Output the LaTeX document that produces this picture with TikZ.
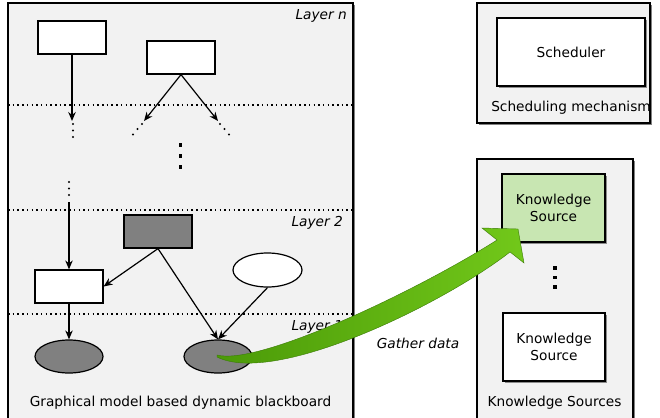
\documentclass[tikz,border=0pt]{standalone}
\usepackage{fontspec}
\setmainfont{DejaVu Sans}
\usetikzlibrary{arrows.meta,shadows,shapes.geometric}
\definecolor{panelgray}{HTML}{F2F2F2}
\definecolor{nodegray}{HTML}{808080}
\definecolor{ksgreen}{HTML}{C8E6B2}
\definecolor{arrowdark}{HTML}{4B9A08}
\definecolor{arrowlight}{HTML}{72C81A}
\definecolor{arrowedge}{HTML}{3A7A06}
\begin{document}
\begin{tikzpicture}[x=1pt,y=-1pt,
  txt/.style={font=\fontsize{13.7}{16}\selectfont, inner sep=0pt},
  layerlbl/.style={txt, font=\fontsize{13.7}{16}\selectfont\itshape, anchor=east},
  panelbox/.style={draw=black, line width=1.3pt, fill=panelgray,
    drop shadow={shadow xshift=2pt, shadow yshift=-2pt, fill=black!50, opacity=1}},
  innerbox/.style={draw=black, line width=1.3pt,
    drop shadow={shadow xshift=1.8pt, shadow yshift=-1.8pt, fill=black!45, opacity=1}},
  gbox/.style={draw=black, line width=1.2pt, rectangle, minimum width=68pt, minimum height=33pt, inner sep=0pt},
  gell/.style={draw=black, line width=1.2pt, ellipse, minimum width=68pt, minimum height=33pt, inner sep=0pt},
  arr/.style={-{Stealth[length=9pt,width=7.5pt,inset=3pt]}, line width=1.2pt},
  layersep/.style={line width=1.5pt, dash pattern=on 1.5pt off 3.2pt},
  dot/.style={fill=black, inner sep=0pt, minimum size=2.2pt, circle},
  bigdot/.style={fill=black, inner sep=0pt, minimum size=3.4pt, rectangle}
]
\useasboundingbox (0,0) rectangle (660,417);
\clip (0,0) rectangle (660,417);

% ---------------- blackboard panel ----------------
\path[panelbox] (8,3) rectangle (353,430);
\draw[layersep] (8,105) -- (353,105);
\draw[layersep] (8,210) -- (353,210);
\draw[layersep] (8,314) -- (353,314);
\node[layerlbl] at (347,16) {Layer n};
\node[layerlbl] at (343,223) {Layer 2};
\node[layerlbl] at (343,327) {Layer 1};

% layer n
\node[gbox, fill=white] (nA) at (72,37.5) {};
\node[gbox, fill=white] (nB) at (181,57.5) {};
\coordinate (a1) at (72,121);
\coordinate (b1) at (144,121);
\coordinate (b2) at (218,121);
\draw[arr] (nA.south) -- (a1);
\draw[arr] (nB.south) -- (b1);
\draw[arr] (nB.south) -- (b2);
\foreach \y in {124,130.5,137} \node[dot] at (73,\y) {};
\foreach \x/\y in {142/124,137.5/129,133/134.5} \node[dot] at (\x,\y) {};
\foreach \x/\y in {220/124,224.5/129,229/134.5} \node[dot] at (\x,\y) {};
\foreach \y in {145,156,167} \node[bigdot] at (180.5,\y) {};
\foreach \y in {182,188.5,195} \node[dot] at (69,\y) {};

% layer 2
\node[gbox, fill=white] (nC) at (69,286.5) {};
\node[gbox, fill=nodegray] (nD) at (158,231.5) {};
\node[gell, fill=white, minimum width=69pt, minimum height=34pt] (nW) at (267.5,270) {};
\coordinate (c0) at (69,202);
\draw[arr] (c0) -- (nC.north);
\draw[arr] (nD.south) -- (nC.east);

% layer 1
\node[gell, fill=nodegray] (nE1) at (69,356.5) {};
\node[gell, fill=nodegray] (nE2) at (218,356.5) {};
\draw[arr] (nC.south) -- (nE1.north);
\draw[arr] (nD.south) -- (nE2.north);
\draw[arr] (nW.south) -- (nE2.north);

\node[txt] (bbcap) at (180.5,403) {Graphical model based dynamic blackboard};

% ---------------- scheduling panel ----------------
\path[panelbox] (477,3) rectangle (650,123);
\node[txt, innerbox, fill=white, minimum width=148pt, minimum height=68pt] (sched) at (571,52) {Scheduler};
\node[txt] (schedcap) at (571,108) {Scheduling mechanism};

% ---------------- knowledge sources panel ----------------
\path[panelbox] (477,159) rectangle (633,430);
\node[txt, innerbox, fill=ksgreen, minimum width=103pt, minimum height=68pt, align=center] (ks1) at (553.5,208) {Knowledge\\[1.5pt]Source};
\node[txt, innerbox, fill=white, minimum width=102pt, minimum height=68pt, align=center] (ks2) at (554,347) {Knowledge\\[1.5pt]Source};
\foreach \y in {268,277.5,287} \node[bigdot] at (555,\y) {};
\node[txt] (kscap) at (554.5,403) {Knowledge Sources};

% ---------------- data flow arrow ----------------
\shade[left color=arrowdark, right color=arrowlight, draw=arrowedge, line width=0.4pt]
  (217,355) .. controls (258,366) and (415,292) .. (497,240)
  -- (482,228) -- (518,229) -- (524,263) -- (510,252)
  .. controls (442,305) and (275,386) .. (217,357) -- cycle;
\node[txt, font=\fontsize{13.7}{16}\selectfont\itshape] (gather) at (418,343) {Gather data};
\end{tikzpicture}
\end{document}
